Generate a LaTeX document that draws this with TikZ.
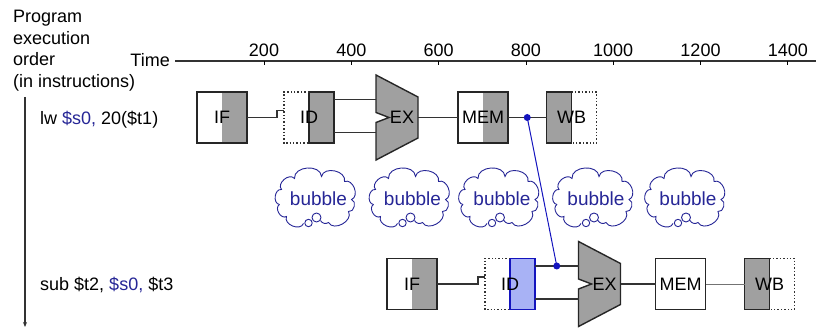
\documentclass[tikz,border=0pt]{standalone}
\usepackage{fontspec}
\setmainfont{Liberation Sans}
\usetikzlibrary{calc,arrows.meta,backgrounds}
\definecolor{stagegray}{RGB}{160,160,160}
\definecolor{hazblue}{RGB}{38,38,150}
\definecolor{fwdblue}{RGB}{20,20,190}
\definecolor{idblue}{RGB}{168,178,245}
\begin{document}
\begin{tikzpicture}[x=1pt,y=-1pt,
  every node/.style={font=\fontsize{18}{22}\selectfont},
  stagebox/.style={minimum width=50pt,minimum height=51pt,inner sep=0pt,outer sep=0pt},
  alubox/.style={minimum width=42pt,minimum height=85pt,inner sep=0pt,outer sep=0pt},
  boxline/.style={line width=1.4pt,draw=black!85},
  dotline/.style={line width=1.4pt,dotted,draw=black!80},
  wire/.style={line width=1.1pt,draw=black!80},
  thinwire/.style={line width=0.9pt,draw=black!55},
  cloudnode/.style={minimum width=80pt,minimum height=53pt,inner sep=0pt,text=hazblue,font=\fontsize{19}{22}\selectfont},
  cloudline/.style={draw=hazblue,line width=0.9pt},
  puff/.style={bend left=90,looseness=1.2},
  fwd/.style={line width=1pt,draw=fwdblue},
  fwddot/.style={circle,fill=fwdblue,inner sep=0pt,minimum size=7pt},
  lbl/.style={anchor=base west,inner sep=0pt}
]
\useasboundingbox (0,0) rectangle (816,328);

% left labels
\node[lbl] (l1) at (13,22.5) {Program};
\node[lbl] (l2) at (13,44.5) {execution};
\node[lbl] (l3) at (13,66) {order};
\node[lbl] (l4) at (13,87.5) {(in instructions)};
\node[anchor=base east,inner sep=0pt] (time) at (170,66.5) {Time};

% time axis
\coordinate (ax0) at (175,61);
\coordinate (ax1) at (816,61);
\draw[wire] (ax0) -- (ax1);
\foreach \t [count=\i from 0] in {200,400,600,800,1000,1200,1400}{
  \draw[line width=0.8pt] (264+87.3*\i,61) -- (264+87.3*\i,65);
  \node[anchor=base,inner sep=0pt] (tk\t) at (264+87.3*\i,57) {\t};
}

% order arrow
\coordinate (ord0) at (25,97);
\coordinate (ord1) at (25,327);
\draw[wire,-{Stealth[length=5pt,width=4pt]}] (ord0) -- (ord1);

% instructions
\node[lbl] (instr1) at (40,124.5) {lw \textcolor{hazblue}{\$s0,} 20(\$t1)};
\node[lbl] (instr2) at (40,291) {sub \$t2, \textcolor{hazblue}{\$s0,} \$t3};

% row 1 stages
\node[stagebox] (if1) at (222,117.5) {IF};
\node[stagebox] (id1) at (309,117.5) {ID};
\node[alubox] (ex1) at (397,117.5) {\kern10pt EX};
\node[stagebox] (mem1) at (483,117.5) {MEM};
\node[stagebox] (wb1) at (571.5,117.5) {WB};

% row 2 stages
\node[stagebox] (if2) at (412,284) {IF};
\node[stagebox] (id2) at (510,284) {ID};
\node[alubox] (ex2) at (599.5,284) {\kern10pt EX};
\node[stagebox] (mem2) at (680.5,284) {MEM};
\node[stagebox] (wb2) at (769.5,284) {WB};

% bubbles
\foreach \cx [count=\i] in {313.5,407.5,497,591,683}{
  \node[cloudnode] (bub\i) at (\cx,198.5) {\kern10pt bubble};
}

\begin{scope}[on background layer]
  % IF boxes
  \foreach \n in {if1,if2}{
    \fill[stagegray] (\n.north) rectangle (\n.south east);
    \draw[boxline] (\n.north west) rectangle (\n.south east);
  }
  % ID row 1
  \fill[stagegray] (id1.north) rectangle (id1.south east);
  \draw[boxline] (id1.north) rectangle (id1.south east);
  \draw[dotline] (id1.north) -- (id1.north west) -- (id1.south west) -- (id1.south);
  % ID row 2 (blue)
  \fill[idblue] (id2.north) rectangle (id2.south east);
  \draw[boxline,draw=fwdblue] (id2.north) rectangle (id2.south east);
  \draw[dotline] (id2.north) -- (id2.north west) -- (id2.south west) -- (id2.south);
  % EX
  \foreach \n in {ex1,ex2}{
    \filldraw[boxline,fill=stagegray] (\n.north west) -- ($(\n.east)+(0,-20.5)$) -- ($(\n.east)+(0,20.5)$)
      -- (\n.south west) -- ($(\n.west)+(0,5)$) -- ($(\n.west)+(13,0)$) -- ($(\n.west)+(0,-5)$) -- cycle;
  }
  % MEM
  \fill[stagegray] (mem1.north) rectangle (mem1.south east);
  \draw[boxline] (mem1.north west) rectangle (mem1.south east);
  \draw[boxline] (mem2.north west) rectangle (mem2.south east);
  % WB
  \foreach \n in {wb1,wb2}{
    \fill[stagegray] (\n.north west) rectangle (\n.south);
    \draw[boxline] (\n.north west) rectangle (\n.south);
    \draw[dotline] (\n.north) -- (\n.north east) -- (\n.south east) -- (\n.south);
  }
  % cloud outlines
  \foreach \i in {1,...,5}{
    \begin{scope}[shift={(bub\i.center)}]
      \draw[cloudline] (-34,6) to[puff] (-32,-9) to[puff] (-19,-20) to[puff] (8,-22)
        to[puff] (31,-17) to[puff] (38,1) to[puff] (35,13) to[puff] (15,24)
        to[bend left=50] (7,22);
      \draw[cloudline] (-10,25) to[puff] (-27,18) to[puff] (-34,6);
      \draw[cloudline,fill=white] (3,19) circle[radius=4.5pt];
      \draw[cloudline,fill=white] (-5,24.5) circle[radius=3.7pt];
    \end{scope}
  }
\end{scope}

% row 1 connectors
\draw[wire] (if1.east) -| ($(id1.west)+(-7,-7)$) -- ($(id1.west)+(0,-7)$);
\draw[wire] ($(id1.east)+(0,-18)$) -- ($(ex1.west)+(0,-18)$);
\draw[wire] ($(id1.east)+(0,15)$) -- ($(ex1.west)+(0,15)$);
\draw[wire] (ex1.east) -- (mem1.west);
\draw[wire] (mem1.east) -- coordinate[pos=0.5] (f1) (wb1.west);

% row 2 connectors
\draw[wire] (if2.east) -| ($(id2.west)+(-7,-7)$) -- ($(id2.west)+(0,-7)$);
\draw[wire] ($(id2.east)+(0,-18)$) -- coordinate[pos=0.5] (f2) ($(ex2.west)+(0,-18)$);
\draw[wire] ($(id2.east)+(0,15)$) -- ($(ex2.west)+(0,15)$);
\draw[wire] (ex2.east) -- (mem2.west);
\draw[thinwire] (mem2.east) -- (wb2.west);

% forwarding path
\draw[fwd] (f1) -- (f2);
\node[fwddot] (d1) at (f1) {};
\node[fwddot] (d2) at (f2) {};
\end{tikzpicture}
\end{document}
